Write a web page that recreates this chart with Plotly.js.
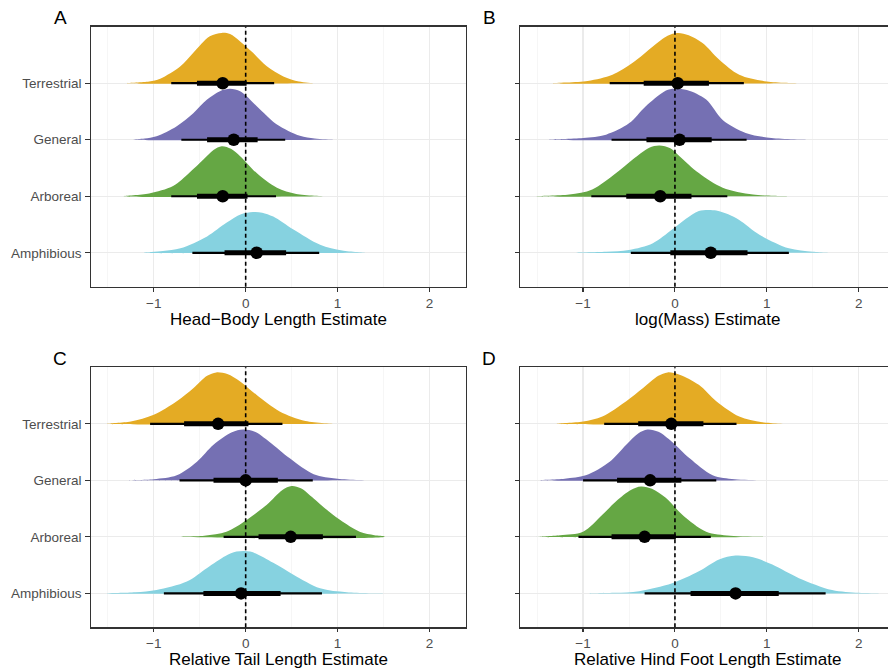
<!DOCTYPE html>
<html>
<head>
<meta charset="utf-8">
<script src="https://cdn.plot.ly/plotly-3.0.1.min.js"></script>
<style>
html,body{margin:0;padding:0;overflow:hidden;background:#fff;}
#chart{width:900px;height:669px;}
</style>
</head>
<body>
<div id="chart"></div>
<script>
// ---------- data ----------
const categories = ["Amphibious", "Arboreal", "General", "Terrestrial"]; // bottom -> top
const categoryColors = ["#86D2E0", "#65A744", "#7570B3", "#E4AB24"];
const panelLetters = ["A", "B", "C", "D"];
const axisTitles = ["Head\u2212Body Length Estimate", "log(Mass) Estimate",
                    "Relative Tail Length Estimate", "Relative Hind Foot Length Estimate"];
const xTickVals = [-1, 0, 1, 2];
const xTickText = ["\u22121", "0", "1", "2"];

// posterior summaries per panel (order: Amphibious, Arboreal, General, Terrestrial)
const medianA = [0.12, -0.25, -0.13, -0.25];
const lo66A = [-0.23, -0.53, -0.42, -0.53];
const hi66A = [0.44, 0.02, 0.13, 0.01];
const lo95A = [-0.58, -0.81, -0.70, -0.81];
const hi95A = [0.80, 0.33, 0.43, 0.31];

const medianB = [0.39, -0.16, 0.05, 0.03];
const lo66B = [-0.05, -0.53, -0.31, -0.34];
const hi66B = [0.79, 0.18, 0.40, 0.37];
const lo95B = [-0.48, -0.91, -0.69, -0.71];
const hi95B = [1.24, 0.57, 0.78, 0.75];

const medianC = [-0.05, 0.49, 0.00, -0.30];
const lo66C = [-0.46, 0.14, -0.35, -0.67];
const hi66C = [0.38, 0.84, 0.35, 0.03];
const lo95C = [-0.89, -0.24, -0.72, -1.04];
const hi95C = [0.83, 1.20, 0.73, 0.40];

const medianD = [0.66, -0.33, -0.27, -0.04];
const lo66D = [0.17, -0.69, -0.63, -0.40];
const hi66D = [1.13, 0.01, 0.07, 0.31];
const lo95D = [-0.33, -1.05, -1.00, -0.77];
const hi95D = [1.64, 0.39, 0.45, 0.67];

// density outlines (x positions and heights, in category units)
const densXA = [
  [-1.11, -0.90, -0.71, -0.42, -0.21, -0.05, 0.08, 0.18, 0.30, 0.52, 0.81, 1.05, 1.32],
  [-1.33, -1.05, -0.79, -0.61, -0.46, -0.35, -0.26, -0.16, -0.06, 0.12, 0.34, 0.55, 0.88],
  [-1.22, -1.10, -0.97, -0.75, -0.57, -0.42, -0.28, -0.17, -0.06, 0.01, 0.16, 0.34, 0.59, 0.75, 0.95],
  [-1.29, -1.05, -0.93, -0.71, -0.57, -0.39, -0.26, -0.17, -0.06, 0.08, 0.23, 0.41, 0.58, 0.74]
];
const densHA = [
  [0, 0.03, 0.08, 0.29, 0.53, 0.68, 0.72, 0.71, 0.64, 0.41, 0.14, 0.04, 0],
  [0, 0.05, 0.18, 0.42, 0.65, 0.82, 0.885, 0.84, 0.71, 0.41, 0.15, 0.04, 0],
  [0, 0.02, 0.06, 0.24, 0.47, 0.71, 0.86, 0.90, 0.86, 0.77, 0.53, 0.27, 0.07, 0.02, 0],
  [0, 0.03, 0.08, 0.30, 0.54, 0.83, 0.89, 0.87, 0.74, 0.54, 0.30, 0.12, 0.03, 0]
];
const densXB = [
  [-1.11, -0.75, -0.50, -0.24, -0.03, 0.12, 0.26, 0.45, 0.58, 0.70, 0.92, 1.24, 1.50, 1.75],
  [-1.51, -1.15, -0.90, -0.64, -0.46, -0.28, -0.17, -0.05, 0.05, 0.26, 0.52, 0.85, 1.24],
  [-1.37, -1.00, -0.75, -0.50, -0.32, -0.12, -0.03, 0.13, 0.34, 0.52, 0.77, 1.05, 1.46],
  [-1.33, -0.95, -0.68, -0.46, -0.24, -0.08, 0.03, 0.15, 0.30, 0.48, 0.70, 1.00, 1.35]
];
const densHB = [
  [0, 0.02, 0.05, 0.17, 0.41, 0.60, 0.74, 0.75, 0.68, 0.58, 0.32, 0.08, 0.02, 0],
  [0, 0.03, 0.12, 0.41, 0.65, 0.86, 0.90, 0.85, 0.71, 0.41, 0.15, 0.03, 0],
  [0, 0.03, 0.09, 0.29, 0.59, 0.85, 0.90, 0.88, 0.71, 0.35, 0.12, 0.03, 0],
  [0, 0.04, 0.15, 0.36, 0.65, 0.84, 0.89, 0.85, 0.71, 0.42, 0.15, 0.03, 0]
];
const densXC = [
  [-1.51, -1.20, -0.97, -0.64, -0.42, -0.22, -0.10, 0.05, 0.30, 0.52, 0.81, 1.10, 1.50],
  [-0.79, -0.45, -0.21, 0.01, 0.23, 0.40, 0.50, 0.60, 0.74, 0.95, 1.24, 1.40, 1.51],
  [-1.29, -1.00, -0.75, -0.53, -0.35, -0.15, -0.03, 0.10, 0.26, 0.48, 0.74, 1.00, 1.39],
  [-1.51, -1.25, -1.00, -0.75, -0.57, -0.42, -0.32, -0.20, -0.06, 0.12, 0.37, 0.65, 0.99]
];
const densHC = [
  [0, 0.02, 0.06, 0.21, 0.45, 0.66, 0.74, 0.74, 0.54, 0.33, 0.09, 0.02, 0],
  [0, 0.02, 0.09, 0.30, 0.57, 0.83, 0.90, 0.86, 0.68, 0.39, 0.09, 0.03, 0.01],
  [0, 0.02, 0.09, 0.33, 0.63, 0.85, 0.90, 0.86, 0.68, 0.39, 0.11, 0.03, 0],
  [0, 0.04, 0.16, 0.40, 0.63, 0.85, 0.91, 0.88, 0.75, 0.51, 0.22, 0.05, 0]
];
const densXD = [
  [-0.93, -0.65, -0.39, -0.03, 0.26, 0.48, 0.66, 0.85, 1.06, 1.35, 1.71, 2.00, 2.22],
  [-1.51, -1.25, -1.00, -0.79, -0.64, -0.48, -0.37, -0.25, -0.10, 0.08, 0.34, 0.60, 0.99],
  [-1.51, -1.20, -0.97, -0.71, -0.53, -0.40, -0.30, -0.18, -0.03, 0.16, 0.41, 0.65, 1.03],
  [-1.29, -1.00, -0.79, -0.53, -0.35, -0.18, -0.08, 0.05, 0.26, 0.45, 0.70, 0.95, 1.28]
];
const densHD = [
  [0, 0.01, 0.04, 0.18, 0.39, 0.60, 0.67, 0.64, 0.51, 0.27, 0.06, 0.01, 0],
  [0, 0.03, 0.09, 0.39, 0.63, 0.83, 0.89, 0.85, 0.69, 0.39, 0.09, 0.02, 0],
  [0, 0.03, 0.09, 0.33, 0.63, 0.83, 0.90, 0.86, 0.68, 0.39, 0.09, 0.02, 0],
  [0, 0.04, 0.13, 0.40, 0.63, 0.85, 0.91, 0.87, 0.69, 0.40, 0.13, 0.03, 0]
];

// ---------- assembly ----------
const panelData = [
  {med: medianA, l66: lo66A, h66: hi66A, l95: lo95A, h95: hi95A, dx: densXA, dh: densHA},
  {med: medianB, l66: lo66B, h66: hi66B, l95: lo95B, h95: hi95B, dx: densXB, dh: densHB},
  {med: medianC, l66: lo66C, h66: hi66C, l95: lo95C, h95: hi95C, dx: densXC, dh: densHC},
  {med: medianD, l66: lo66D, h66: hi66D, l95: lo95D, h95: hi95D, dx: densXD, dh: densHD}
];

const W = 900, H = 669;
const boxes = [ // pixel boxes: left, right, top, bottom
  [91, 465.7, 26.7, 286.7],
  [520.3, 894.9, 26.7, 286.7],
  [91, 465.7, 367.3, 627.3],
  [520.3, 894.9, 367.3, 627.3]
];
const levels = [1, 2, 3, 4];
const fontFam = "Liberation Sans, Arial, Helvetica, sans-serif";

const traces = [];
const layout = {
  width: W, height: H,
  margin: {l: 0, r: 0, t: 0, b: 0},
  paper_bgcolor: "#FFFFFF", plot_bgcolor: "#FFFFFF",
  showlegend: false,
  font: {family: fontFam},
  shapes: [], annotations: []
};

panelData.forEach((p, i) => {
  const n = i + 1;
  const xa = "x" + (n === 1 ? "" : n), ya = "y" + (n === 1 ? "" : n);
  const xk = "xaxis" + (n === 1 ? "" : n), yk = "yaxis" + (n === 1 ? "" : n);
  const b = boxes[i];

  layout[xk] = {
    domain: [b[0] / W, b[1] / W],
    range: [-1.683, 2.394],
    anchor: ya,
    tickvals: xTickVals, ticktext: xTickText,
    ticks: "outside", ticklen: 3.5, tickwidth: 1.1, tickcolor: "#333333",
    tickfont: {size: 13.5, color: "#4D4D4D", family: fontFam},
    showgrid: true, gridcolor: "#EBEBEB", gridwidth: 1.1,
    minor: {tickvals: [-1.5, -0.5, 0.5, 1.5], showgrid: true, gridcolor: "#F0F0F0", gridwidth: 0.6, ticks: ""},
    zeroline: false,
    showline: true, mirror: true, linecolor: "#333333", linewidth: 1.3,
    fixedrange: true
  };
  layout[yk] = {
    domain: [1 - b[3] / H, 1 - b[2] / H],
    range: [0.4, 5.0],
    anchor: xa,
    tickvals: levels,
    ticktext: (i % 2 === 0) ? categories : ["", "", "", ""],
    ticks: "outside", ticklen: 4.5, tickwidth: 1.1, tickcolor: "#333333",
    ticklabelstandoff: 1,
    tickfont: {size: 13.5, color: "#4D4D4D", family: fontFam},
    showgrid: true, gridcolor: "#EBEBEB", gridwidth: 1.1,
    zeroline: false,
    showline: true, mirror: true, linecolor: "#333333", linewidth: 1.3,
    fixedrange: true
  };

  // densities
  categories.forEach((c, k) => {
    const xs = p.dx[k], hs = p.dh[k];
    const polyX = xs.slice();
    const polyY = hs.map(h => levels[k] + h);
    traces.push({
      type: "scatter", mode: "lines", xaxis: xa, yaxis: ya,
      x: polyX.concat([xs[xs.length - 1], xs[0]]),
      y: polyY.concat([levels[k], levels[k]]),
      fill: "toself", fillcolor: categoryColors[k],
      line: {width: 0, shape: "spline", smoothing: 0.9, color: categoryColors[k]},
      hoverinfo: "skip", name: c
    });
  });

  // intervals
  categories.forEach((c, k) => {
    traces.push({
      type: "scatter", mode: "lines", xaxis: xa, yaxis: ya,
      x: [p.l95[k], p.h95[k]], y: [levels[k], levels[k]],
      line: {color: "#000000", width: 2.2}, hoverinfo: "skip"
    });
    traces.push({
      type: "scatter", mode: "lines", xaxis: xa, yaxis: ya,
      x: [p.l66[k], p.h66[k]], y: [levels[k], levels[k]],
      line: {color: "#000000", width: 5}, hoverinfo: "skip"
    });
  });
  traces.push({
    type: "scatter", mode: "markers", xaxis: xa, yaxis: ya,
    x: p.med, y: levels,
    marker: {color: "#000000", size: 12.5, line: {width: 0}},
    hoverinfo: "skip"
  });

  // dashed zero line
  layout.shapes.push({
    type: "line", xref: xa, yref: ya + " domain",
    x0: 0, x1: 0, y0: 0, y1: 1,
    line: {color: "#000000", width: 1.6, dash: "4px,3px"},
    layer: "above"
  });

  // panel letter
  layout.annotations.push({
    text: panelLetters[i], xref: "paper", yref: "paper",
    x: (b[0] - 31) / W, y: 1 - (b[2] - 9) / H,
    xanchor: "center", yanchor: "middle", showarrow: false,
    font: {size: 19, color: "#000000", family: fontFam}
  });
  // axis title
  layout.annotations.push({
    text: axisTitles[i], xref: "paper", yref: "paper",
    x: ((b[0] + b[1]) / 2) / W, y: 1 - (b[3] + 32.5) / H,
    xanchor: "center", yanchor: "middle", showarrow: false,
    font: {size: 17, color: "#000000", family: fontFam}
  });
});

Plotly.newPlot("chart", traces, layout, {staticPlot: true, displayModeBar: false});
</script>
</body>
</html>
